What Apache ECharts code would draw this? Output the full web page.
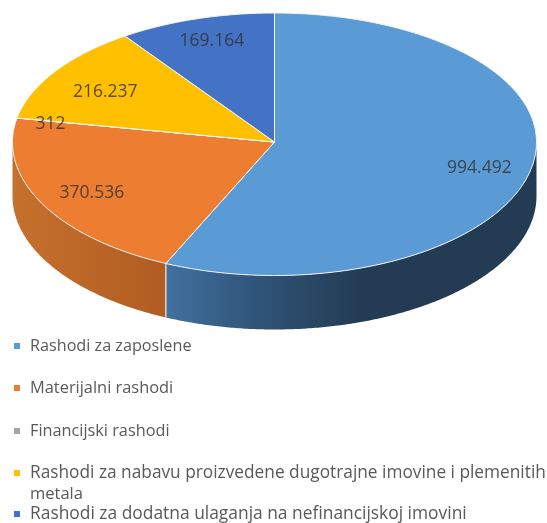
<!DOCTYPE html>
<html>
<head>
<meta charset="utf-8">
<style>
  html, body { margin: 0; padding: 0; background: #fff; }
  #chart { width: 547px; height: 523px; }
</style>
<script src="https://cdn.jsdelivr.net/npm/echarts@6/dist/echarts.min.js"></script>
</head>
<body>
<div id="chart"></div>
<script>
const categories = [
  'Rashodi za zaposlene',
  'Materijalni rashodi',
  'Financijski rashodi',
  'Rashodi za nabavu proizvedene dugotrajne imovine i plemenitih metala',
  'Rashodi za dodatna ulaganja na nefinancijskoj imovini'
]
const values = [994492, 370536, 312, 216237, 169164]
const colors = ['#5b9bd5', '#ed7d31', '#a5a5a5', '#ffc000', '#4472c4']

// 版面微调
const legendTops = [346, 388, 431, 473, 514]
const legendFontSizes = [16.2, 16.4, 16.3, 17.3, 17.4]
const labelRadius = [0.8, 0.785, 0.87, 0.77, 0.8]
const labelNudge = [3, 3, 3, 4, -3]

const FONT = '"Open Sans", sans-serif'
const pie = { cx: 274.5, cy: 142, rx: 262, ryBack: 129, ryFront: 133.5, depth: 54 }
const total = values.reduce((a, b) => a + b, 0)

function startAngle(i) {
  return values.slice(0, i).reduce((a, b) => a + b, 0) / total * 360
}

// 角度从正上方顺时针计算
function pt(deg, drop = 0, k = 1) {
  const r = deg * Math.PI / 180
  const c = Math.cos(r)
  return [
    pie.cx + pie.rx * k * Math.sin(r),
    pie.cy - (c > 0 ? pie.ryBack : pie.ryFront) * k * c + drop
  ]
}

function arc(from, to, drop = 0) {
  const pts = []
  const n = Math.max(2, Math.ceil(Math.abs(to - from) * 2))
  for (let i = 0; i <= n; i++) pts.push(pt(from + (to - from) * i / n, drop))
  return pts
}

function wallColor(i) {
  if (i === 0) {
    return new echarts.graphic.LinearGradient(165, 0, 360, 0, [
      { offset: 0, color: '#41719f' },
      { offset: 0.45, color: '#30557a' },
      { offset: 1, color: '#233c53' }
    ], true)
  }
  return new echarts.graphic.LinearGradient(13, 0, 165, 0, [
    { offset: 0, color: '#c6702d' },
    { offset: 1, color: '#b15d22' }
  ], true)
}

function renderSlice(i) {
  const start = startAngle(i)
  const end = start + values[i] / total * 360
  const children = []

  // 侧面只在前半圈可见
  const wallFrom = Math.max(start, 90)
  const wallTo = Math.min(end, 270)
  if (wallFrom < wallTo) {
    const top = arc(wallFrom, wallTo)
    const bottom = arc(wallTo, wallFrom, pie.depth)
    children.push({
      type: 'polygon',
      shape: { points: top.concat(bottom) },
      style: { fill: wallColor(i) }
    })
    if (start > 90 && start < 270) {
      children.push({
        type: 'line',
        shape: { x1: pt(start)[0], y1: pt(start)[1], x2: pt(start, pie.depth)[0], y2: pt(start, pie.depth)[1] },
        style: { stroke: '#e8eef4', lineWidth: 1.2 }
      })
    }
  }

  // 顶面
  children.push({
    type: 'polygon',
    shape: { points: [[pie.cx, pie.cy]].concat(arc(start, end)) },
    style: { fill: colors[i], stroke: '#f4f7fb', lineWidth: 1, lineJoin: 'round' },
    z2: 5
  })
  return { type: 'group', children }
}

// 数值标签单独一层，否则 312 会被后面的扇形盖住
function renderLabel(params) {
  const i = params.dataIndex
  const mid = startAngle(i) + values[i] / total * 180
  const pos = pt(mid, labelNudge[i], labelRadius[i])
  return {
    type: 'text',
    x: pos[0],
    y: pos[1],
    style: {
      text: String(values[i]).replace(/\B(?=(\d{3})+$)/g, '.'),
      align: 'center',
      verticalAlign: 'middle',
      fontFamily: FONT,
      fontSize: 17.5,
      fill: 'rgba(50,50,50,0.82)'
    }
  }
}

const option = {
  animation: false,
  backgroundColor: '#fff',
  legend: categories.map((name, i) => ({
    data: [name],
    left: 14,
    top: legendTops[i] - 10,
    icon: 'rect',
    itemWidth: 6,
    itemHeight: 6,
    selectedMode: false,
    padding: 0,
    formatter: (n) => n.replace(' metala', ''),
    textStyle: { fontFamily: FONT, fontSize: legendFontSizes[i], color: '#595959', padding: [0, 0, 0, 5], lineHeight: 20 }
  })),
  graphic: [{
    type: 'text',
    left: 30,
    top: 486,
    style: { text: 'metala', fontFamily: FONT, fontSize: 16.5, fill: '#595959' }
  }],
  series: categories.map((name, i) => ({
    type: 'custom',
    name,
    coordinateSystem: 'none',
    itemStyle: { color: colors[i] },
    data: [values[i]],
    z: 2 + i,
    silent: true,
    renderItem: () => renderSlice(i)
  })).concat({
    type: 'custom',
    name: 'labels',
    coordinateSystem: 'none',
    data: values,
    z: 20,
    silent: true,
    renderItem: renderLabel
  })
}

const chart = echarts.init(document.getElementById('chart'), null, { renderer: 'canvas' })
chart.setOption(option)
</script>
</body>
</html>
